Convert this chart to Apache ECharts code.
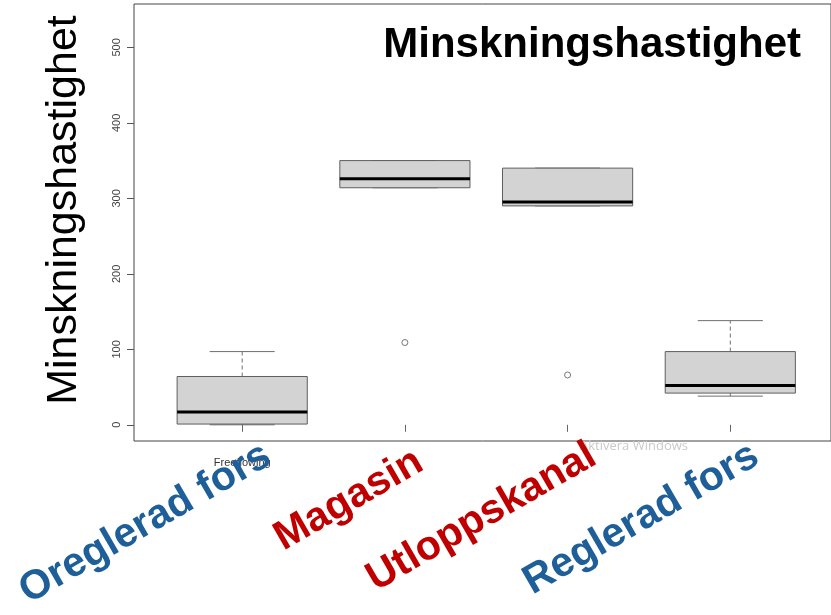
<!DOCTYPE html>
<html>
<head>
<meta charset="utf-8">
<title>Minskningshastighet</title>
<script src="https://cdn.jsdelivr.net/npm/echarts@6/dist/echarts.min.js"></script>
<style>
  html, body { margin: 0; padding: 0; background: #ffffff; }
  #chart { width: 831px; height: 615px; }
</style>
</head>
<body>
<div id="chart"></div>
<script>
// Box statistics per site type (rate of decrease)
const categories   = ['Oreglerad fors', 'Magasin', 'Utloppskanal', 'Reglerad fors'];
const lowerWhisker = [0, 314, 290, 38];
const lowerQuartile = [1, 314, 290, 42];
const medians      = [17, 326, 295, 52];
const upperQuartile = [64, 350, 340, 97];
const upperWhisker = [97, 350, 340, 138];
// Outliers: [category number (1-based), value]
const outliers = [[2, 109], [3, 66]];
// Y axis tick labels
const yTicks = [0, 100, 200, 300, 400, 500];
const firstAxisLabel = 'Freeflowing';
const titleText = 'Minskningshastighet';
const yAxisTitle = 'Minskningshastighet';

// Label colours (natural vs. regulated) and small offsets along the text line
const labelColors = ['#1F5F99', '#C00000', '#C00000', '#1F5F99'];
const labelNudge = [16, 4, 16, 16];

const FONT = '"Liberation Sans", Arial, Helvetica, sans-serif';
const Y_MIN = -21.44, Y_MAX = 557.4;
const X_MIN = 0.335, X_MAX = 4.619;

const boxData = categories.map((c, i) => [
  i + 1, lowerWhisker[i], lowerQuartile[i], medians[i], upperQuartile[i], upperWhisker[i]
]);

function renderBox(params, api) {
  const x = api.value(0);
  const lo = api.coord([x, api.value(1)]);
  const q1 = api.coord([x, api.value(2)]);
  const md = api.coord([x, api.value(3)]);
  const q3 = api.coord([x, api.value(4)]);
  const hi = api.coord([x, api.value(5)]);
  const half = api.size([0.4, 0])[0];
  const cap = half / 2;
  const cx = lo[0];
  const axisY = api.coord([x, Y_MIN])[1];
  const idx = params.dataIndex;
  const whiskerStyle = { stroke: '#6e6e6e', lineWidth: 1, lineDash: [4, 3] };
  const capStyle = { stroke: '#6e6e6e', lineWidth: 1 };
  return {
    type: 'group',
    children: [
      { type: 'line', shape: { x1: cx, y1: q3[1], x2: cx, y2: hi[1] }, style: whiskerStyle },
      { type: 'line', shape: { x1: cx, y1: q1[1], x2: cx, y2: lo[1] }, style: whiskerStyle },
      { type: 'line', shape: { x1: cx - cap, y1: hi[1], x2: cx + cap, y2: hi[1] }, style: capStyle },
      { type: 'line', shape: { x1: cx - cap, y1: lo[1], x2: cx + cap, y2: lo[1] }, style: capStyle },
      { type: 'rect', shape: { x: cx - half, y: q3[1], width: half * 2, height: q1[1] - q3[1] },
        style: { fill: '#D3D3D3', stroke: '#5e5e5e', lineWidth: 1 } },
      { type: 'line', shape: { x1: cx - half, y1: md[1], x2: cx + half, y2: md[1] },
        style: { stroke: '#000000', lineWidth: 3 } },
      { type: 'text', x: cx, y: axisY, rotation: Math.PI / 6, z2: 10,
        style: { text: categories[idx], x: labelNudge[idx], y: 23, align: 'right', verticalAlign: 'middle',
                 fill: labelColors[idx], font: 'bold 41px ' + FONT } }
    ]
  };
}

const chart = echarts.init(document.getElementById('chart'), null, { renderer: 'canvas' });
chart.setOption({
  backgroundColor: '#ffffff',
  animation: false,
  grid: { left: 134, top: 4, width: 697, height: 437, show: true,
          borderColor: '#444444', borderWidth: 1, backgroundColor: 'transparent' },
  xAxis: {
    type: 'value', min: X_MIN, max: X_MAX,
    axisLine: { show: false }, splitLine: { show: false },
    axisTick: { show: true, customValues: [1, 2, 3, 4], length: 7, lineStyle: { color: '#666666' } },
    axisLabel: { show: true, customValues: [1], formatter: () => firstAxisLabel,
                 fontSize: 11, color: '#333333', margin: 16, fontFamily: FONT }
  },
  yAxis: {
    type: 'value', min: Y_MIN, max: Y_MAX,
    axisLine: { show: false }, splitLine: { show: false },
    axisTick: { show: true, customValues: yTicks, length: 7, lineStyle: { color: '#555555' } },
    axisLabel: { show: true, customValues: yTicks, rotate: 90, margin: 12,
                 fontSize: 11, color: '#444444', fontFamily: FONT }
  },
  graphic: [
    { type: 'text', left: 580, top: 440, z: 1,
      style: { text: 'Aktivera Windows', font: '13px "Open Sans", "Noto Sans", sans-serif', fill: '#cacaca' } },
    { type: 'text', x: 801, y: 45, z: 5,
      style: { text: titleText, align: 'right', verticalAlign: 'middle', font: 'bold 42px ' + FONT, fill: '#000000' } },
    { type: 'text', x: 64, y: 210, rotation: Math.PI / 2, z: 5,
      style: { text: yAxisTitle, align: 'center', verticalAlign: 'middle', font: '43px ' + FONT, fill: '#000000' } }
  ],
  series: [
    { type: 'custom', renderItem: renderBox, data: boxData, clip: false, z: 3,
      encode: { x: 0, y: [1, 2, 3, 4, 5] } },
    { type: 'scatter', data: outliers, symbol: 'circle', symbolSize: 6, z: 4,
      itemStyle: { color: 'rgba(0,0,0,0)', borderColor: '#555555', borderWidth: 1 } }
  ]
});
</script>
</body>
</html>
